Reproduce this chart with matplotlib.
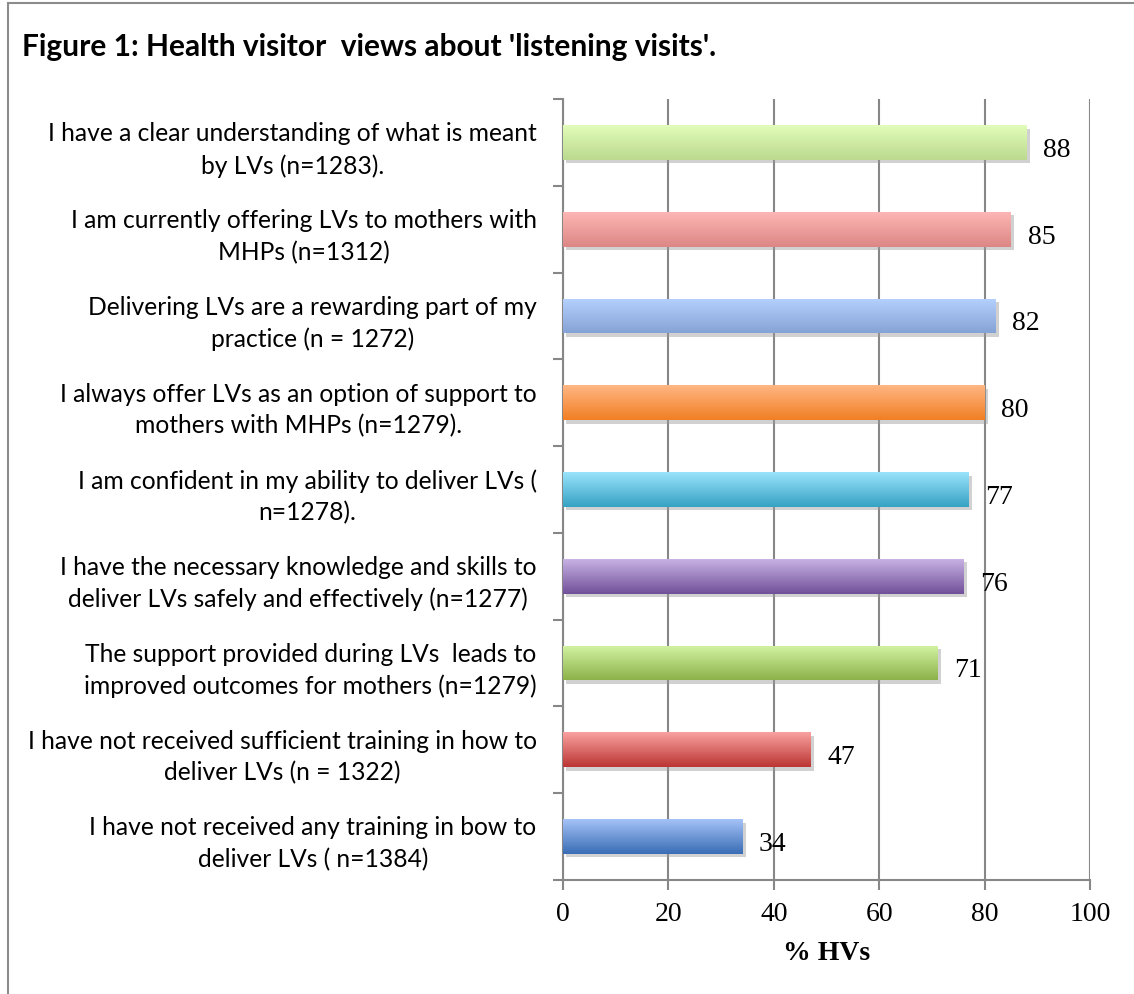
import matplotlib
matplotlib.use("Agg")
import matplotlib.pyplot as plt
import numpy as np
from matplotlib.colors import LinearSegmentedColormap
from matplotlib.patches import Rectangle
import matplotlib.patheffects as pe

# ---------------- data ----------------
categories = [
    "I have a clear understanding of what is meant\nby LVs (n=1283).",
    "I am currently offering LVs to mothers with\nMHPs (n=1312)",
    "Delivering LVs are a rewarding part of my\npractice (n = 1272)",
    "I always offer LVs as an option of support to\nmothers with MHPs (n=1279).",
    "I am confident in my ability to deliver LVs (\nn=1278).",
    "I have the necessary knowledge and skills to\ndeliver LVs safely and effectively (n=1277)",
    "The support provided during LVs  leads to\nimproved outcomes for mothers (n=1279)",
    "I have not received sufficient training in how to\ndeliver LVs (n = 1322)",
    "I have not received any training in bow to\ndeliver LVs ( n=1384)",
]
values = [88, 85, 82, 80, 77, 76, 71, 47, 34]
x_ticks = [0, 20, 40, 60, 80, 100]
title = "Figure 1: Health visitor  views about 'listening visits'."
x_label = "% HVs"

# ---------------- styles ----------------
top_colors = ["#e1fdb9", "#fdb6b4", "#b5d1fd", "#ffb683", "#9ae3fb",
              "#c7b2e3", "#d3f3a3", "#f9a19f", "#a4c2f7"]
bottom_colors = ["#bcd98f", "#dc8785", "#86a3d6", "#f17f24", "#36a2c4",
                 "#71509a", "#8db24a", "#bb3634", "#3a6db5"]
grid_color = "#878787"
label_font = "Lato"
num_font = "Liberation Serif"

fig = plt.figure(figsize=(11.34, 9.95), dpi=100)
fig.patch.set_facecolor("white")

# outer frame (top and left edges visible)
fig.add_artist(Rectangle((8 / 1134, -0.1), 1.2, 1.1 - 4 / 995,
                         transform=fig.transFigure, fill=False,
                         edgecolor="#8c8c8c", linewidth=1.5, zorder=0))

ax = fig.add_axes([563 / 1134, 1 - 881 / 995, (1090 - 563) / 1134, (881 - 100) / 995])

n = len(values)
ypos = np.arange(n)
bar_h = 0.40

ax.set_xlim(0, 100)
ax.set_ylim(n - 0.5, -0.5)

bars = ax.barh(ypos, values, height=bar_h, color=list(bottom_colors),
               edgecolor="none", zorder=3)
for i, (b, v) in enumerate(zip(bars, values)):
    b.set_path_effects([pe.SimplePatchShadow(offset=(2.5, -2.5), shadow_rgbFace="#9a9a9a", alpha=0.45),
                        pe.Normal()])
    cmap = LinearSegmentedColormap.from_list("g%d" % i, [top_colors[i], bottom_colors[i]])
    grad = np.linspace(0, 1, 64).reshape(-1, 1)
    im = ax.imshow(grad, cmap=cmap, aspect="auto", interpolation="bilinear",
                   extent=[0, v, i + bar_h / 2, i - bar_h / 2], origin="upper", zorder=4)
    im.set_clip_path(b)
    ax.annotate(str(v), xy=(v, i), xytext=(12, -5), textcoords="offset points",
                ha="left", va="center", fontsize=20, family=num_font, color="black", zorder=5)

ax.set_xlim(0, 100)
ax.set_ylim(n - 0.5, -0.5)

# grid
ax.set_xticks(x_ticks)
ax.set_xticklabels([str(t) for t in x_ticks], family=num_font, fontsize=20)
ax.xaxis.grid(True, color=grid_color, linewidth=1.5, zorder=1)
ax.set_axisbelow(True)
ax.tick_params(axis="x", length=7, width=1.5, color=grid_color, pad=8, direction="out")

# y ticks: labels at centers, tick marks at boundaries
ax.set_yticks(ypos)
ax.set_yticklabels(categories, family=label_font, fontsize=17.7, linespacing=1.45)
for t in ax.get_yticklabels():
    t.set_multialignment("center")
ax.tick_params(axis="y", which="major", length=0, pad=19)
ax.set_yticks(np.arange(-0.5, n, 1.0), minor=True)
ax.tick_params(axis="y", which="minor", length=7, width=1.5, color=grid_color, direction="out")

for s in ["top", "right"]:
    ax.spines[s].set_visible(False)
for s in ["left", "bottom"]:
    ax.spines[s].set_color(grid_color)
    ax.spines[s].set_linewidth(1.5)

ax.set_xlabel(x_label, family=num_font, fontsize=20, fontweight="bold", labelpad=10)

fig.text(22 / 1134, 1 - 47 / 995, title, family=label_font, fontsize=21.5,
         fontweight="bold", ha="left", va="center")

fig.savefig("out.png", dpi=100, facecolor="white")
